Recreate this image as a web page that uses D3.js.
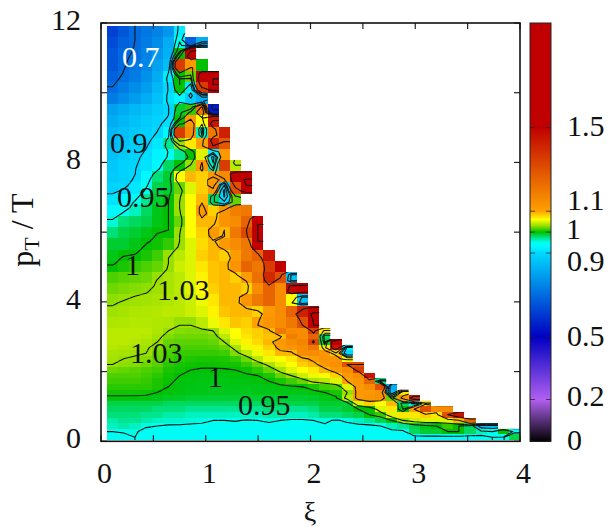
<!DOCTYPE html>
<html>
<head>
<meta charset="utf-8">
<script src="https://cdnjs.cloudflare.com/ajax/libs/d3/7.8.5/d3.min.js"></script>
<style>
  html, body { margin: 0; padding: 0; background: #fff; }
  text { font-family: "Liberation Serif", serif; fill: #111; }
</style>
</head>
<body>
<div id="chart"></div>
<script>
// Ratio map in (xi, pT/T).
// Rows run bottom to top, each row starts at the left edge and stops at the staircase.

// pT below about 3.2: bins of 0.16
const lowRows = [
  [.945,.947,.95,.94,.94,.94,.94,.94,.94,.94,.94,.945,.94,.94,.94,.94,.94,.94,.94,.94,.94,.94,.94,.94,.94,.94,.94,.94,.94,.94,.94,.94,.94,.945,.95,.948,.985],
  [.95,.951,.952,.945,.945,.945,.942,.945,.94,.94,.94,.94,.94,.94,.94,.94,.94,.94,.94,.94,.94,.94,.94,.94,.945,.945,.945,.98,.99,.99,1.0,1.0,.98,.96,.95,1.0,.94],
  [.96,.965,.96,.952,.95,.948,.948,.947,.947,.945,.945,.945,.945,.945,.945,.945,.945,.945,.945,.948,.945,.945,.945,.945,.95,.96,.97,.985,.995,1.0,1.01,1.0,.98,.87,.86],
  [.965,.97,.97,.965,.96,.958,.957,.955,.953,.95,.95,.951,.949,.95,.953,.95,.948,.948,.95,.953,.948,.953,.96,.97,.985,1.0,1.03,1.045,1.05,1.05,1.05,1.09,1.25],
  [.975,.975,.975,.97,.97,.965,.965,.96,.96,.96,.96,.96,.96,.96,.965,.965,.96,.96,.965,.975,.975,.98,.985,1.0,1.01,1.05,1.07,1.07,1.08,1.07,1.3,1.45],
  [.98,.98,.98,.98,.975,.975,.975,.97,.97,.97,.97,.97,.97,.97,.975,.975,.97,.97,.975,.985,.985,.99,1.0,1.0,1.05,1.07,1.0,1.1,1.3,1.15,1.15],
  [.985,.985,.985,.985,.985,.98,.98,.98,.98,.98,.98,.98,.98,.98,.985,.985,.985,.985,.985,.99,.99,.99,1.05,1.08,1.06,1.09,.98,.94,1.07],
  [.998,.998,.998,.998,.995,.993,.992,.99,.99,.99,.99,.99,.99,.99,.99,.99,.99,.99,.992,.995,.998,1.04,1.12,1.13,1.14,1.02,1.12,1.42],
  [1.003,1.003,1.003,1.002,1.0,.998,.997,.995,.995,.994,.994,.994,.994,.995,.995,.995,.995,.995,.997,1.0,1.005,1.03,1.12,1.12,1.14,.85,1.07],
  [1.008,1.008,1.008,1.008,1.005,1.0,.997,.996,.995,.995,.995,.995,.995,.995,.996,.997,.998,1.0,1.005,1.012,1.015,1.05,1.12,1.15,1.3,.82],
  [1.012,1.012,1.012,1.01,1.005,1.002,.998,.997,.996,.996,.996,.997,.997,.998,1.0,1.005,1.012,1.02,1.035,1.04,1.05,1.1,1.13,1.25,.97],
  [1.015,1.015,1.015,1.012,1.008,1.003,1.0,.998,.997,.997,.997,.998,.999,1.0,1.006,1.02,1.03,1.045,1.055,1.06,1.08,1.12,1.15,1.45],
  [1.022,1.02,1.018,1.015,1.012,1.005,1.003,1.0,.999,.999,.999,1.0,1.002,1.008,1.02,1.035,1.05,1.06,1.07,1.09,1.12,1.15,1.35],
  [1.03,1.028,1.026,1.022,1.017,1.008,1.005,1.003,1.002,1.002,1.003,1.004,1.01,1.02,1.035,1.05,1.06,1.08,1.09,1.12,1.14,1.3,1.3],
  [1.033,1.03,1.028,1.025,1.02,1.012,1.008,1.006,1.005,1.005,1.006,1.01,1.022,1.04,1.055,1.06,1.07,1.09,1.11,1.13,1.13,1.06],
  [1.035,1.034,1.032,1.03,1.022,1.014,1.01,1.01,1.01,1.01,1.012,1.025,1.04,1.055,1.07,1.09,1.09,1.15,1.15,1.13,1.08,.9],
  [1.038,1.036,1.035,1.032,1.025,1.018,1.015,1.014,1.014,1.015,1.02,1.035,1.055,1.065,1.08,1.11,1.13,1.15,1.2,1.07,1.45,.93],
  [1.04,1.04,1.038,1.035,1.03,1.02,1.018,1.018,1.018,1.02,1.03,1.05,1.065,1.075,1.09,1.12,1.15,1.17,1.32,.99,1.5],
  [1.04,1.04,1.04,1.038,1.034,1.025,1.022,1.022,1.022,1.024,1.04,1.06,1.07,1.08,1.085,1.09,1.18,1.15,1.25,.98],
  [1.04,1.04,1.04,1.04,1.036,1.03,1.026,1.025,1.025,1.03,1.05,1.06,1.075,1.08,1.09,1.2,1.15,1.15,1.34,1.07]
];

// pT above about 3.2: bins of 0.32
const highRows = [
  [1.036,1.037,1.038,1.038,1.037,1.036,1.03,1.03,1.04,1.055,1.07,1.085,1.08,1.1,1.13,1.15,1.2,1.3,1.5],
  [1.032,1.034,1.036,1.037,1.038,1.04,1.04,1.045,1.05,1.065,1.085,1.09,1.09,1.08,1.12,1.15,1.25,1.42,1.55],
  [1.028,1.03,1.032,1.033,1.035,1.037,1.04,1.045,1.055,1.07,1.09,1.09,1.13,1.2,1.25,1.15,1.06,.86],
  [1.022,1.024,1.026,1.028,1.032,1.035,1.04,1.05,1.06,1.08,1.09,1.09,1.08,1.15,1.25,1.15,1.48,1.5],
  [1.015,1.018,1.02,1.022,1.03,1.035,1.04,1.05,1.065,1.085,1.09,1.08,1.11,1.22,1.4,1.3,.86],
  [1.0,1.005,1.01,1.015,1.02,1.03,1.045,1.05,1.07,1.085,1.09,1.13,1.25,1.2,1.35,1.5],
  [.995,1.0,1.0,1.005,1.012,1.03,1.04,1.05,1.08,1.09,1.08,1.11,1.2,1.25,1.45],
  [.99,.99,.995,1.0,1.003,1.01,1.03,1.05,1.075,1.09,1.12,1.15,1.2,1.5],
  [.975,.985,.99,.995,1.0,1.0,1.03,1.06,1.08,1.12,1.09,1.2,1.32,1.5],
  [.955,.975,.98,.985,.995,1.0,1.02,1.06,1.09,1.09,1.13,1.15,1.25,1.5],
  [.93,.945,.96,.98,.995,1.0,1.03,1.06,1.12,1.08,1.13,1.18,1.2],
  [.91,.93,.95,.97,.99,1.0,1.03,1.06,1.09,.98,.9,1.02],
  [.89,.895,.915,.95,.985,.99,1.02,1.05,1.08,1.12,.88,1.3,1.5],
  [.875,.885,.9,.93,.975,.99,1.06,1.09,1.08,1.12,1.15,1.5,1.52],
  [.87,.888,.898,.91,.93,.98,1.0,1.03,1.12,.96,1.35,1.04],
  [.86,.875,.893,.905,.925,.945,.97,1.0,1.05,.92,1.12],
  [.85,.865,.88,.895,.915,.97,1.03,1.07,1.1,1.42,1.28],
  [.84,.855,.87,.885,.9,.93,1.35,1.15,.96,1.2,1.42],
  [.82,.84,.86,.875,.89,.905,1.0,1.12,1.06,1.45],
  [.8,.82,.84,.86,.88,.895,.99,1.01,1.2,.55],
  [.73,.76,.79,.82,.86,.91,.93,.88,.83],
  [.7,.73,.76,.79,.84,.9,1.0,.92,1.35,1.5],
  [.68,.705,.73,.77,.82,.92,1.0,1.02,1.5,1.5],
  [.66,.695,.72,.75,.8,.85,1.35,1.12,1.0],
  [.66,.69,.705,.74,.78,.83,1.0,1.5],
  [.64,.68,.7,.73,.76,.82,.95,.68,.82],
  [.62,.66,.7,.72,.74,.78,.92]
];

const contourLevels = [0.5, 0.7, 0.9, 0.95, 1, 1.03, 1.1, 1.3, 1.5];

const paletteValues = [0, 0.2, 0.5, 0.9, 0.93, 0.95, 1, 1.03, 1.06, 1.1, 1.5, 2];
const paletteColors = ["#000000", "#b060f0", "#0000c0", "#00d8ff", "#00f8ff", "#00fff0",
  "#00c000", "#98e000", "#ffff00", "#ffa000", "#c00000", "#c00000"];

const xTicks = [0, 0.5, 1, 1.5, 2, 2.5, 3, 3.5, 4];
const xTickLabels = [0, 1, 2, 3, 4];
const yTicks = [0, 2, 4, 6, 8, 10, 12];
const yTickLabels = [0, 4, 8, 12];
const cbTicks = [0, 0.2, 0.5, 0.9, 1, 1.1, 1.5];
// the 1.1, 1 and 0.9 labels were pushed apart by hand in the original
const cbLabels = ["0", "0.2", "0.5", "0.9", "1", "1.1", "1.5"];
const cbLabelShift = [0, -2, 0, 9, -2, -10, -1];

const lineLabels = [
  { xi: 0.2, pt: 10.746, text: "0.7", color: "#fff" },
  { xi: 0.086, pt: 8.27, text: "0.9", color: "#111" },
  { xi: 0.153, pt: 6.73, text: "0.95", color: "#111" },
  { xi: 0.229, pt: 4.77, text: "1", color: "#111" },
  { xi: 0.535, pt: 4.05, text: "1.03", color: "#111" },
  { xi: 0.277, pt: 2.246, text: "1.03", color: "#111" },
  { xi: 1.02, pt: 1.566, text: "1", color: "#111" },
  { xi: 1.308, pt: 0.754, text: "0.95", color: "#111" }
];

// --- LAYOUT ---
const width = 608;
const height = 527;
const plot = { left: 101, right: 520, top: 23, bottom: 441.3 };
const bar = { left: 530, right: 551 };

const xi0 = 0.0573, dXi = 0.10663;
const pt0 = 0.037, dPt = 0.1606;

const x = d3.scaleLinear().domain([0, 4]).range([plot.left, plot.right]);
const y = d3.scaleLinear().domain([0, 12]).range([plot.bottom, plot.top]);
const cb = d3.scaleLinear().domain([0, 2]).range([plot.bottom, plot.top]);
const color = d3.scaleLinear().domain(paletteValues).range(paletteColors).clamp(true);

const svg = d3.select("#chart").append("svg")
  .attr("width", width)
  .attr("height", height)
  .style("display", "block");

// --- CELLS ---
const cells = [];
lowRows.forEach((row, j) => row.forEach((v, i) => cells.push({ i, j, span: 1, v })));
highRows.forEach((row, j) => row.forEach((v, i) =>
  cells.push({ i, j: lowRows.length + 2 * j, span: 2, v })));

const cellRect = sel => sel
  .attr("x", d => x(xi0 + d.i * dXi))
  .attr("width", d => x(xi0 + (d.i + 1) * dXi) - x(xi0 + d.i * dXi))
  .attr("y", d => y(pt0 + (d.j + d.span) * dPt))
  .attr("height", d => y(pt0 + d.j * dPt) - y(pt0 + (d.j + d.span) * dPt));

svg.append("g")
  .attr("shape-rendering", "crispEdges")
  .selectAll("rect")
  .data(cells)
  .join("rect")
  .call(cellRect)
  .attr("fill", d => color(d.v));

// --- CONTOURS ---
// one fine grid for d3.contours. Coarse rows sit between two fine rows, so each
// becomes two rows leaning towards its neighbour. Cells past the staircase repeat the row's end.
const nCols = 37;
const at = (row, i) => row[Math.min(Math.max(i, 0), row.length - 1)];
const fineRows = lowRows.slice();
highRows.forEach((row, j) => {
  const below = j > 0 ? highRows[j - 1] : row;
  const above = j < highRows.length - 1 ? highRows[j + 1] : row;
  fineRows.push(d3.range(nCols).map(i => 0.75 * at(row, i) + 0.25 * at(below, i)));
  fineRows.push(d3.range(nCols).map(i => 0.75 * at(row, i) + 0.25 * at(above, i)));
});

// padded so the contours do not close along the border
const padded = [fineRows[0], ...fineRows, fineRows[fineRows.length - 1]];
const field = [];
padded.forEach(row => {
  for (let i = -1; i <= nCols; i++) field.push(at(row, i));
});

const contours = d3.contours()
  .size([nCols + 2, padded.length])
  .thresholds(contourLevels)(field);

const toPlot = d3.geoTransform({
  point(gx, gy) {
    this.stream.point(x(xi0 + (gx - 1) * dXi), y(pt0 + (gy - 1) * dPt));
  }
});

svg.append("clipPath")
  .attr("id", "cells-clip")
  .selectAll("rect")
  .data(cells)
  .join("rect")
  .call(cellRect);

svg.append("g")
  .attr("clip-path", "url(#cells-clip)")
  .selectAll("path")
  .data(contours)
  .join("path")
  .attr("d", d3.geoPath(toPlot))
  .attr("fill", "none")
  .attr("stroke", "#111")
  .attr("stroke-width", 1.1)
  .attr("stroke-linejoin", "round");

// --- FRAME AND TICKS ---
const tickLen = 6;
const axisG = svg.append("g").attr("stroke", "#222").attr("stroke-width", 1.2);

xTicks.forEach(t => {
  axisG.append("line").attr("x1", x(t)).attr("x2", x(t)).attr("y1", plot.bottom).attr("y2", plot.bottom - tickLen);
  axisG.append("line").attr("x1", x(t)).attr("x2", x(t)).attr("y1", plot.top).attr("y2", plot.top + tickLen);
});
yTicks.forEach(t => {
  axisG.append("line").attr("x1", plot.left).attr("x2", plot.left + tickLen).attr("y1", y(t)).attr("y2", y(t));
  axisG.append("line").attr("x1", plot.right).attr("x2", plot.right - tickLen).attr("y1", y(t)).attr("y2", y(t));
});

svg.append("rect")
  .attr("x", plot.left)
  .attr("y", plot.top)
  .attr("width", plot.right - plot.left)
  .attr("height", plot.bottom - plot.top)
  .attr("fill", "none")
  .attr("stroke", "#111")
  .attr("stroke-width", 1.6);

const bigText = 30;

svg.append("g").selectAll("text")
  .data(xTickLabels)
  .join("text")
  .attr("x", d => x(d) + 3.5)
  .attr("y", 483)
  .attr("text-anchor", "middle")
  .style("font-size", bigText + "px")
  .text(d => d);

svg.append("g").selectAll("text")
  .data(yTickLabels)
  .join("text")
  .attr("x", 81)
  .attr("y", d => y(d) + 7)
  .attr("text-anchor", "end")
  .style("font-size", bigText + "px")
  .text(d => d);

svg.append("text")
  .attr("x", 310)
  .attr("y", 521)
  .attr("text-anchor", "middle")
  .style("font-size", "28px")
  .text("ξ");

const yLabel = svg.append("text")
  .attr("transform", "translate(33,230) rotate(-90)")
  .attr("text-anchor", "middle")
  .style("font-size", "32px");
yLabel.append("tspan").text("p");
yLabel.append("tspan").attr("dy", 6).style("font-size", "22px").text("T");
yLabel.append("tspan").attr("dy", -6).text(" / T");

// --- CONTOUR LABELS ---
svg.append("g").selectAll("text")
  .data(lineLabels)
  .join("text")
  .attr("x", d => x(d.xi))
  .attr("y", d => y(d.pt))
  .style("font-size", bigText + "px")
  .style("fill", d => d.color)
  .text(d => d.text);

// --- COLOUR BAR ---
const barSteps = d3.range(0, 2, 2 / 419);
svg.append("g")
  .attr("shape-rendering", "crispEdges")
  .selectAll("rect")
  .data(barSteps)
  .join("rect")
  .attr("x", bar.left)
  .attr("width", bar.right - bar.left)
  .attr("y", d => cb(d + 2 / 419))
  .attr("height", d => cb(d) - cb(d + 2 / 419) + 0.5)
  .attr("fill", d => color(d));

svg.append("rect")
  .attr("x", bar.left)
  .attr("y", plot.top)
  .attr("width", bar.right - bar.left)
  .attr("height", plot.bottom - plot.top)
  .attr("fill", "none")
  .attr("stroke", "#222")
  .attr("stroke-width", 1);

const cbTickG = svg.append("g").attr("stroke", "#222").attr("stroke-opacity", 0.75).attr("stroke-width", 1);
cbTicks.forEach(t => {
  cbTickG.append("line").attr("x1", bar.left).attr("x2", bar.left + 5).attr("y1", cb(t)).attr("y2", cb(t));
  cbTickG.append("line").attr("x1", bar.right - 5).attr("x2", bar.right).attr("y1", cb(t)).attr("y2", cb(t));
});

svg.append("g").selectAll("text")
  .data(cbTicks)
  .join("text")
  .attr("x", (d, i) => cbLabels[i] === "1" ? 566 : 567)
  .attr("y", (d, i) => cb(d) + cbLabelShift[i] + 9)
  .style("font-size", bigText + "px")
  .text((d, i) => cbLabels[i]);
</script>
</body>
</html>
